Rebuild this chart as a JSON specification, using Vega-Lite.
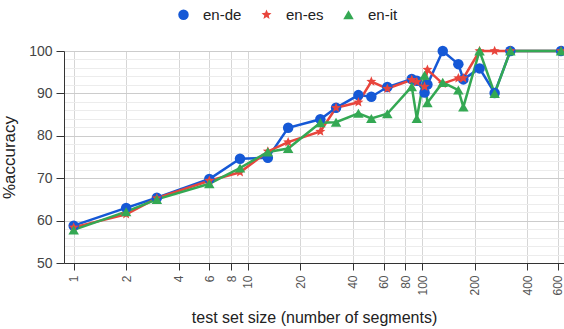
{
  "$schema": "https://vega.github.io/schema/vega-lite/v6.json",
  "autosize": "none",
  "width": 500,
  "height": 212,
  "padding": {"left": 64, "top": 51, "right": 0, "bottom": 66},
  "background": "white",
  "config": {
    "font": "Liberation Sans",
    "view": {"stroke": null}
  },
  "data": {
    "values": [
      {"series": "en-de", "x": 1, "y": 58.8},
      {"series": "en-de", "x": 2, "y": 63.0},
      {"series": "en-de", "x": 3, "y": 65.4},
      {"series": "en-de", "x": 6, "y": 69.8},
      {"series": "en-de", "x": 9, "y": 74.6},
      {"series": "en-de", "x": 13, "y": 74.8},
      {"series": "en-de", "x": 17, "y": 81.9},
      {"series": "en-de", "x": 26, "y": 83.9},
      {"series": "en-de", "x": 32, "y": 86.6},
      {"series": "en-de", "x": 43, "y": 89.6},
      {"series": "en-de", "x": 51, "y": 89.2},
      {"series": "en-de", "x": 63, "y": 91.5},
      {"series": "en-de", "x": 87, "y": 93.4},
      {"series": "en-de", "x": 93, "y": 93.0},
      {"series": "en-de", "x": 103, "y": 90.2},
      {"series": "en-de", "x": 107, "y": 92.1},
      {"series": "en-de", "x": 131, "y": 100},
      {"series": "en-de", "x": 161, "y": 96.9},
      {"series": "en-de", "x": 172, "y": 93.3},
      {"series": "en-de", "x": 213, "y": 95.9},
      {"series": "en-de", "x": 260, "y": 90.1},
      {"series": "en-de", "x": 320, "y": 100},
      {"series": "en-de", "x": 625, "y": 100},
      {"series": "en-es", "x": 1, "y": 58.4},
      {"series": "en-es", "x": 2, "y": 61.5},
      {"series": "en-es", "x": 3, "y": 65.3},
      {"series": "en-es", "x": 6, "y": 69.4},
      {"series": "en-es", "x": 9, "y": 71.4},
      {"series": "en-es", "x": 13, "y": 76.3},
      {"series": "en-es", "x": 17, "y": 78.5},
      {"series": "en-es", "x": 26, "y": 81.0},
      {"series": "en-es", "x": 32, "y": 86.6},
      {"series": "en-es", "x": 43, "y": 87.9},
      {"series": "en-es", "x": 51, "y": 92.8},
      {"series": "en-es", "x": 63, "y": 91.1},
      {"series": "en-es", "x": 87, "y": 93.2},
      {"series": "en-es", "x": 93, "y": 92.7},
      {"series": "en-es", "x": 103, "y": 91.6},
      {"series": "en-es", "x": 107, "y": 95.6},
      {"series": "en-es", "x": 131, "y": 92.3},
      {"series": "en-es", "x": 161, "y": 93.6},
      {"series": "en-es", "x": 172, "y": 93.6},
      {"series": "en-es", "x": 213, "y": 100},
      {"series": "en-es", "x": 260, "y": 100},
      {"series": "en-es", "x": 320, "y": 100},
      {"series": "en-es", "x": 625, "y": 100},
      {"series": "en-it", "x": 1, "y": 57.8},
      {"series": "en-it", "x": 2, "y": 62.1},
      {"series": "en-it", "x": 3, "y": 65.0},
      {"series": "en-it", "x": 6, "y": 68.7},
      {"series": "en-it", "x": 9, "y": 72.4},
      {"series": "en-it", "x": 13, "y": 76.2},
      {"series": "en-it", "x": 17, "y": 77.0},
      {"series": "en-it", "x": 26, "y": 83.1},
      {"series": "en-it", "x": 32, "y": 83.2},
      {"series": "en-it", "x": 43, "y": 85.3},
      {"series": "en-it", "x": 51, "y": 84.1},
      {"series": "en-it", "x": 63, "y": 85.2},
      {"series": "en-it", "x": 87, "y": 91.6},
      {"series": "en-it", "x": 93, "y": 84.1},
      {"series": "en-it", "x": 103, "y": 94.3},
      {"series": "en-it", "x": 107, "y": 87.8},
      {"series": "en-it", "x": 131, "y": 92.6},
      {"series": "en-it", "x": 161, "y": 90.8},
      {"series": "en-it", "x": 172, "y": 86.8},
      {"series": "en-it", "x": 213, "y": 100},
      {"series": "en-it", "x": 260, "y": 90.0},
      {"series": "en-it", "x": 320, "y": 100},
      {"series": "en-it", "x": 625, "y": 100}
    ]
  },
  "encoding": {
    "x": {
      "field": "x", "type": "quantitative",
      "scale": {"type": "log", "domain": [0.88, 650], "nice": false},
      "axis": {
        "title": "test set size (number of segments)",
        "titleFontSize": 16, "titleFontWeight": "normal", "titleColor": "#222", "titlePadding": 14,
        "values": [1, 2, 4, 6, 8, 10, 20, 40, 60, 80, 100, 200, 400, 600],
        "labelAngle": -90, "labelAlign": "right", "labelBaseline": "middle",
        "labelFontSize": 12, "labelColor": "#555", "labelPadding": 5,
        "labelFlush": false, "labelOverlap": false,
        "tickSize": 7, "tickColor": "#333", "domainColor": "#333",
        "gridColor": "#d6d6d6"
      }
    },
    "y": {
      "field": "y", "type": "quantitative",
      "scale": {"domain": [50, 100], "nice": false, "zero": false},
      "axis": {
        "title": "%accuracy",
        "titleFontSize": 17, "titleFontWeight": "normal", "titleColor": "#222", "titlePadding": 10,
        "values": [50, 52, 54, 56, 58, 60, 62, 64, 66, 68, 70, 72, 74, 76, 78, 80, 82, 84, 86, 88, 90, 92, 94, 96, 98, 100],
        "labelExpr": "datum.value % 10 === 0 ? datum.label : ''",
        "labelFontSize": 14, "labelColor": "#444", "labelPadding": 4,
        "tickSize": 8,
        "tickColor": {"condition": {"test": "datum.value % 10 === 0", "value": "#333"}, "value": "transparent"},
        "gridColor": {"condition": {"test": "datum.value % 10 === 0", "value": "#cccccc"}, "value": "#ececec"},
        "domainColor": "#333"
      }
    },
    "color": {
      "field": "series", "type": "nominal",
      "scale": {"domain": ["en-de", "en-es", "en-it"], "range": ["#1558d6", "#e8453c", "#34a853"]},
      "legend": {
        "title": null, "orient": "none", "direction": "horizontal",
        "legendX": 112, "legendY": -44,
        "labelFontSize": 15, "labelColor": "#222", "symbolSize": 110,
        "columnPadding": 17, "labelOffset": 12, "symbolStrokeWidth": 0
      }
    }
  },
  "layer": [
    {
      "mark": {"type": "line", "strokeWidth": 2.5},
      "encoding": {"detail": {"field": "series"}}
    },
    {
      "mark": {"type": "point", "filled": true, "opacity": 1, "size": 110},
      "encoding": {
        "shape": {
          "field": "series", "type": "nominal",
          "scale": {"domain": ["en-de", "en-es", "en-it"], "range": ["circle", "M0,-1L0.26,-0.36L0.951,-0.309L0.42,0.137L0.588,0.809L0,0.44L-0.588,0.809L-0.42,0.137L-0.951,-0.309L-0.26,-0.36Z", "triangle-up"]}
        }
      }
    }
  ]
}
